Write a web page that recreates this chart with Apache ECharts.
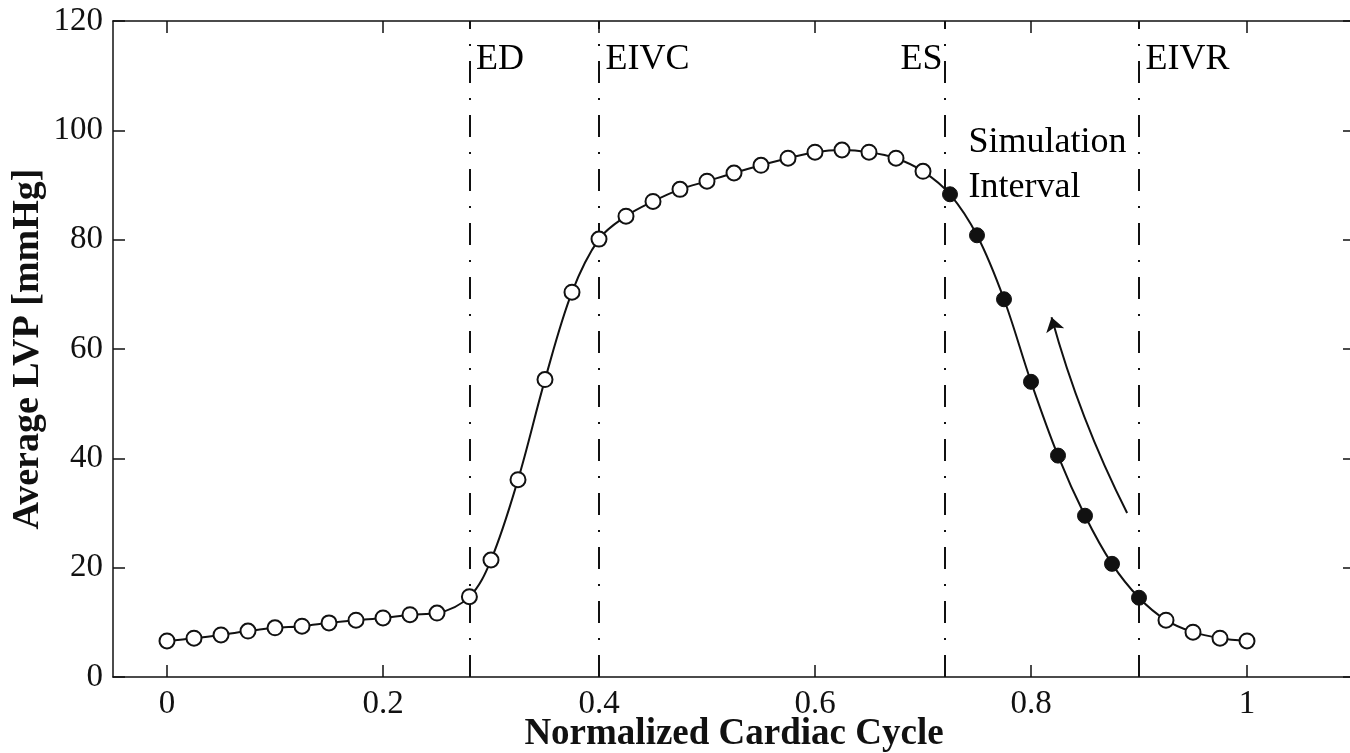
<!DOCTYPE html>
<html>
<head>
<meta charset="utf-8">
<script src="https://cdn.jsdelivr.net/npm/echarts@6/dist/echarts.min.js"></script>
<style>html,body{margin:0;padding:0;background:#fff;overflow:hidden}#c{width:1362px;height:753px}</style>
</head>
<body>
<div id="c"></div>
<script>
// ---- data ----
var cycle = [0,0.025,0.05,0.075,0.1,0.125,0.15,0.175,0.2,0.225,0.25,0.28,0.3,0.325,0.35,0.375,0.4,0.425,0.45,0.475,0.5,0.525,0.55,0.575,0.6,0.625,0.65,0.675,0.7,0.725,0.75,0.775,0.8,0.825,0.85,0.875,0.9,0.925,0.95,0.975,1.0];
var lvp = [6.6,7.1,7.7,8.4,9.0,9.3,9.9,10.4,10.8,11.4,11.7,14.7,21.4,36.1,54.4,70.4,80.1,84.3,87.0,89.2,90.7,92.2,93.6,94.9,96.0,96.4,96.0,94.9,92.5,88.3,80.8,69.1,54.0,40.5,29.5,20.7,14.5,10.4,8.2,7.1,6.6];
var simStart = 0.725, simEnd = 0.9;
var phaseX = [0.28, 0.4, 0.725, 0.9];
var phaseNames = ['ED', 'EIVC', 'ES', 'EIVR'];
var xTicks = [0, 0.2, 0.4, 0.6, 0.8, 1];
var xTickLabels = ['0', '0.2', '0.4', '0.6', '0.8', '1'];
var yTicks = [0, 20, 40, 60, 80, 100, 120];
var arrowFrom = [0.889, 30.0];
var arrowTo = [0.819, 65.8];

// ---- build ----
var serif = '"Liberation Serif", "DejaVu Serif", serif';
var ink = '#111';
var openPts = [], filledPts = [];
for (var i = 0; i < cycle.length; i++) {
  var p = [cycle[i], lvp[i]];
  if (cycle[i] >= simStart - 1e-9 && cycle[i] <= simEnd + 1e-9) filledPts.push(p); else openPts.push(p);
}
var linePts = cycle.map(function (x, i) { return [x, lvp[i]]; });

var labelPts = [
  {value: [phaseX[0], 112.9], label: {formatter: phaseNames[0], position: 'right', distance: 6}},
  {value: [phaseX[1], 112.9], label: {formatter: phaseNames[1], position: 'right', distance: 6}},
  {value: [phaseX[2], 112.9], label: {formatter: phaseNames[2], position: 'left', distance: 7}},
  {value: [phaseX[3], 112.9], label: {formatter: phaseNames[3], position: 'right', distance: 6}},
  {value: [phaseX[2], 93.7], label: {formatter: 'Simulation\nInterval', position: 'right', distance: 18, lineHeight: 45, align: 'left'}}
];

var tickCommon = {inside: true, length: 12, lineStyle: {color: ink, width: 1.5}};
var lineCommon = {show: true, onZero: false, lineStyle: {color: ink, width: 1.5}};

var chart = echarts.init(document.getElementById('c'), null, {renderer: 'canvas'});
chart.setOption({
  animation: false,
  backgroundColor: '#fff',
  grid: {left: 113, top: 21, width: 1242, height: 656, containLabel: false, outerBoundsMode: 'none'},
  xAxis: [{
    type: 'value', min: -0.05, max: 1.1, position: 'bottom',
    axisLine: lineCommon,
    axisTick: Object.assign({customValues: xTicks}, tickCommon),
    axisLabel: {customValues: xTicks, margin: 11, color: ink, fontFamily: serif, fontSize: 33,
      formatter: function (v) { var k = xTicks.indexOf(Math.round(v * 1000) / 1000); return k >= 0 ? xTickLabels[k] : ''; }},
    splitLine: {show: false},
    name: 'Normalized Cardiac Cycle', nameLocation: 'middle', nameGap: 39, nameMoveOverlap: false,
    nameTextStyle: {color: ink, fontFamily: serif, fontSize: 37, fontWeight: 'bold'}
  }, {
    type: 'value', min: -0.05, max: 1.1, position: 'top',
    axisLine: lineCommon,
    axisTick: Object.assign({customValues: xTicks}, tickCommon),
    axisLabel: {show: false}, splitLine: {show: false}
  }],
  yAxis: [{
    type: 'value', min: 0, max: 120, interval: 20, position: 'left',
    axisLine: lineCommon,
    axisTick: tickCommon,
    axisLabel: {margin: 10, color: ink, fontFamily: serif, fontSize: 33},
    splitLine: {show: false},
    name: 'Average LVP [mmHg]', nameLocation: 'middle', nameGap: 66, nameMoveOverlap: false,
    nameTextStyle: {color: ink, fontFamily: serif, fontSize: 38, fontWeight: 'bold'}
  }, {
    type: 'value', min: 0, max: 120, interval: 20, position: 'right',
    axisLine: lineCommon,
    axisTick: tickCommon,
    axisLabel: {show: false}, splitLine: {show: false}
  }],
  series: [
    {
      type: 'line', data: linePts, smooth: 0.35, symbol: 'none',
      lineStyle: {color: ink, width: 2}, z: 3,
      markLine: {
        silent: true, symbol: ['none', 'none'], label: {show: false},
        lineStyle: {color: ink, width: 2, type: [22, 15, 2, 15]},
        data: phaseX.map(function (x) { return {xAxis: x}; })
      }
    },
    {
      type: 'scatter', data: openPts, symbol: 'circle', symbolSize: 15,
      itemStyle: {color: '#fff', borderColor: ink, borderWidth: 2, opacity: 1}, z: 5
    },
    {
      type: 'scatter', data: filledPts, symbol: 'circle', symbolSize: 15,
      itemStyle: {color: ink, borderColor: ink, borderWidth: 1, opacity: 1}, z: 5
    },
    {
      type: 'scatter', data: labelPts, symbolSize: 1, silent: true, z: 6,
      itemStyle: {color: 'rgba(0,0,0,0)', opacity: 1},
      label: {show: true, color: '#000', opacity: 1, fontFamily: serif, fontSize: 36}
    },
    {
      type: 'lines', coordinateSystem: 'cartesian2d', z: 4,
      symbol: ['none', 'arrow'], symbolSize: [0, 14],
      lineStyle: {color: ink, width: 2, curveness: 0.05, opacity: 1},
      data: [{coords: [arrowFrom, arrowTo]}]
    }
  ]
});
</script>
</body>
</html>
